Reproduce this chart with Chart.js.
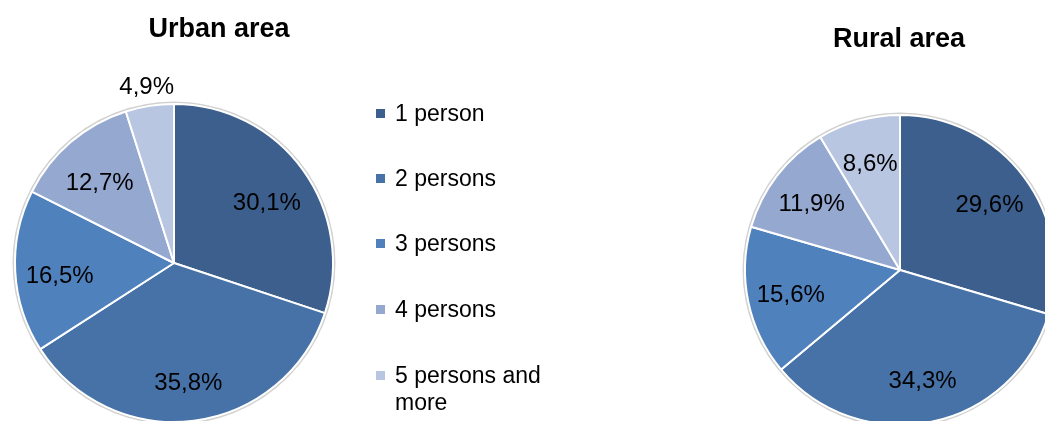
<!DOCTYPE html>
<html>
<head>
<meta charset="utf-8">
<script src="https://cdn.jsdelivr.net/npm/chart.js@4"></script>
<style>
  html, body { margin: 0; padding: 0; background: #fff; overflow: hidden; width: 1045px; height: 421px; }
  body { font-family: 'Liberation Sans', Arial, sans-serif; }
  canvas { position: absolute; }
  #urban { left: 0; top: 0; }
  #rural { left: 700px; top: 0; }
  .title { position: absolute; width: 240px; text-align: center; font-size: 27px; font-weight: bold; line-height: 32px; color: #000; }
  #urbanTitle { left: 99px; top: 12px; }
  #ruralTitle { left: 779px; top: 22px; }
  #legend { position: absolute; left: 376px; top: 0; font-size: 23px; color: #000; }
  .item { position: absolute; left: 0; width: 190px; }
  .box { position: absolute; left: 0; top: 9px; width: 9px; height: 9px; }
  .txt { position: absolute; left: 19px; top: 0; width: 165px; line-height: 27px; }
</style>
</head>
<body>
<canvas id="urban" width="438" height="460"></canvas>
<canvas id="rural" width="400" height="460"></canvas>
<div class="title" id="urbanTitle">Urban area</div>
<div class="title" id="ruralTitle">Rural area</div>
<div id="legend"></div>
<script>
// household size categories
var categories = ['1 person', '2 persons', '3 persons', '4 persons', '5 persons and more'];
var urbanValues = [30.1, 35.8, 16.5, 12.7, 4.9];
var ruralValues = [29.6, 34.3, 15.6, 11.9, 8.6];
var colors = ['#3C5F8D', '#4672A8', '#4F81BD', '#95A8D0', '#B9C6E1'];

var fontFamily = "'Liberation Sans', Arial, sans-serif";

function fmt(v) {
  return v.toFixed(1).replace('.', ',') + '%';
}

// thin grey rim + value labels on the slices (small slices go outside)
var sliceLabels = {
  id: 'sliceLabels',
  beforeDatasetsDraw: function (chart) {
    var arc = chart.getDatasetMeta(0).data[0];
    if (!arc) return;
    var ctx = chart.ctx;
    ctx.save();
    ctx.beginPath();
    ctx.arc(arc.x, arc.y, arc.outerRadius + 1.5, 0, Math.PI * 2);
    ctx.strokeStyle = 'rgba(0,0,0,0.18)';
    ctx.lineWidth = 2;
    ctx.stroke();
    ctx.restore();
  },
  afterDatasetsDraw: function (chart, args, opts) {
    var ctx = chart.ctx;
    var values = chart.data.datasets[0].data;
    var dy = opts.shiftY || 0;
    ctx.save();
    ctx.font = '24px ' + fontFamily;
    ctx.fillStyle = '#000';
    ctx.textAlign = 'center';
    ctx.textBaseline = 'middle';
    chart.getDatasetMeta(0).data.forEach(function (arc, i) {
      var mid = (arc.startAngle + arc.endAngle) / 2;
      var outside = values[i] < 6;
      var f = outside ? 1.12 : 0.72;
      var x = arc.x + Math.cos(mid) * arc.outerRadius * f;
      var y = arc.y + Math.sin(mid) * arc.outerRadius * f + (outside ? 0 : dy);
      ctx.fillText(fmt(values[i]), x, y);
    });
    ctx.restore();
  }
};

function makePie(id, values, pad, shiftY) {
  var ctx = document.getElementById(id).getContext('2d');
  return new Chart(ctx, {
    type: 'pie',
    data: {
      labels: categories,
      datasets: [{
        data: values,
        backgroundColor: colors,
        borderColor: '#fff',
        borderWidth: 2
      }]
    },
    options: {
      responsive: false,
      animation: false,
      layout: { padding: pad },
      plugins: {
        legend: { display: false },
        tooltip: { enabled: false },
        title: { display: false },
        sliceLabels: { shiftY: shiftY }
      }
    },
    plugins: [sliceLabels]
  });
}

makePie('urban', urbanValues, { left: 14, right: 104, top: 103, bottom: 37 }, 7);
makePie('rural', ruralValues, { left: 44, right: 44, top: 114, bottom: 34 }, 2);

// legend
var legend = document.getElementById('legend');
var rowTop = [100, 165, 230, 296, 362];
for (var i = 0; i < categories.length; i++) {
  var item = document.createElement('div');
  item.className = 'item';
  item.style.top = rowTop[i] + 'px';
  var box = document.createElement('div');
  box.className = 'box';
  box.style.background = colors[i];
  var txt = document.createElement('div');
  txt.className = 'txt';
  txt.textContent = categories[i];
  item.appendChild(box);
  item.appendChild(txt);
  legend.appendChild(item);
}
</script>
</body>
</html>
